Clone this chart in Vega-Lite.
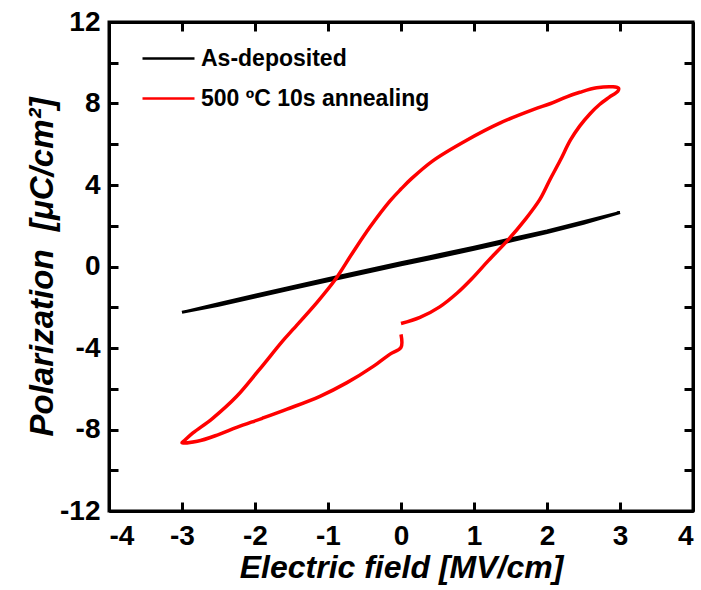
{
  "$schema": "https://vega.github.io/schema/vega-lite/v6.json",
  "autosize": {"type": "none"},
  "width": 584,
  "height": 489,
  "padding": {"left": 109, "top": 22, "right": 8, "bottom": 79},
  "background": "white",
  "config": {
    "view": {"stroke": "black", "strokeWidth": 3},
    "font": "Liberation Sans",
    "axis": {
      "grid": false,
      "domainColor": "black",
      "domainWidth": 3,
      "tickColor": "black",
      "tickWidth": 3,
      "tickSize": -9,
      "labelFont": "Liberation Sans",
      "labelFontWeight": "bold",
      "labelFontSize": 28,
      "labelColor": "black",
      "titleFont": "Liberation Sans",
      "titleFontWeight": "bold",
      "titleFontStyle": "italic",
      "titleFontSize": 32,
      "titleColor": "black"
    }
  },
  "datasets": {
    "pe": [
      {"series": "As-deposited", "i": 0, "E": 0, "P": 0.08},
      {"series": "As-deposited", "i": 1, "E": 0.5, "P": 0.45},
      {"series": "As-deposited", "i": 2, "E": 1, "P": 0.85},
      {"series": "As-deposited", "i": 3, "E": 1.5, "P": 1.25},
      {"series": "As-deposited", "i": 4, "E": 2, "P": 1.67},
      {"series": "As-deposited", "i": 5, "E": 2.5, "P": 2.12},
      {"series": "As-deposited", "i": 6, "E": 3, "P": 2.65},
      {"series": "As-deposited", "i": 7, "E": 2.5, "P": 2.2},
      {"series": "As-deposited", "i": 8, "E": 2, "P": 1.75},
      {"series": "As-deposited", "i": 9, "E": 1.5, "P": 1.35},
      {"series": "As-deposited", "i": 10, "E": 1, "P": 0.95},
      {"series": "As-deposited", "i": 11, "E": 0.5, "P": 0.56},
      {"series": "As-deposited", "i": 12, "E": 0, "P": 0.18},
      {"series": "As-deposited", "i": 13, "E": -0.5, "P": -0.21},
      {"series": "As-deposited", "i": 14, "E": -1, "P": -0.6},
      {"series": "As-deposited", "i": 15, "E": -1.5, "P": -1.0},
      {"series": "As-deposited", "i": 16, "E": -2, "P": -1.41},
      {"series": "As-deposited", "i": 17, "E": -2.5, "P": -1.83},
      {"series": "As-deposited", "i": 18, "E": -3, "P": -2.25},
      {"series": "As-deposited", "i": 19, "E": -2.5, "P": -1.9},
      {"series": "As-deposited", "i": 20, "E": -2, "P": -1.5},
      {"series": "As-deposited", "i": 21, "E": -1.5, "P": -1.09},
      {"series": "As-deposited", "i": 22, "E": -1, "P": -0.7},
      {"series": "As-deposited", "i": 23, "E": -0.5, "P": -0.31},
      {"series": "As-deposited", "i": 24, "E": 0, "P": 0.08},
      {"series": "500 ºC 10s annealing", "i": 0, "E": 0, "P": -2.8},
      {"series": "500 ºC 10s annealing", "i": 1, "E": 0.26, "P": -2.5},
      {"series": "500 ºC 10s annealing", "i": 2, "E": 0.53, "P": -1.98},
      {"series": "500 ºC 10s annealing", "i": 3, "E": 0.77, "P": -1.3},
      {"series": "500 ºC 10s annealing", "i": 4, "E": 0.97, "P": -0.6},
      {"series": "500 ºC 10s annealing", "i": 5, "E": 1.2, "P": 0.3},
      {"series": "500 ºC 10s annealing", "i": 6, "E": 1.47, "P": 1.32},
      {"series": "500 ºC 10s annealing", "i": 7, "E": 1.7, "P": 2.3},
      {"series": "500 ºC 10s annealing", "i": 8, "E": 1.9, "P": 3.28},
      {"series": "500 ºC 10s annealing", "i": 9, "E": 2.04, "P": 4.26},
      {"series": "500 ºC 10s annealing", "i": 10, "E": 2.18, "P": 5.2},
      {"series": "500 ºC 10s annealing", "i": 11, "E": 2.32, "P": 6.2},
      {"series": "500 ºC 10s annealing", "i": 12, "E": 2.45, "P": 6.9},
      {"series": "500 ºC 10s annealing", "i": 13, "E": 2.59, "P": 7.5},
      {"series": "500 ºC 10s annealing", "i": 14, "E": 2.72, "P": 7.95},
      {"series": "500 ºC 10s annealing", "i": 15, "E": 2.85, "P": 8.3},
      {"series": "500 ºC 10s annealing", "i": 16, "E": 2.97, "P": 8.6},
      {"series": "500 ºC 10s annealing", "i": 17, "E": 2.98, "P": 8.75},
      {"series": "500 ºC 10s annealing", "i": 18, "E": 2.9, "P": 8.82},
      {"series": "500 ºC 10s annealing", "i": 19, "E": 2.68, "P": 8.77},
      {"series": "500 ºC 10s annealing", "i": 20, "E": 2.45, "P": 8.55},
      {"series": "500 ºC 10s annealing", "i": 21, "E": 2.27, "P": 8.33},
      {"series": "500 ºC 10s annealing", "i": 22, "E": 2.05, "P": 8.0},
      {"series": "500 ºC 10s annealing", "i": 23, "E": 1.81, "P": 7.7},
      {"series": "500 ºC 10s annealing", "i": 24, "E": 1.36, "P": 7.05},
      {"series": "500 ºC 10s annealing", "i": 25, "E": 0.9, "P": 6.2},
      {"series": "500 ºC 10s annealing", "i": 26, "E": 0.44, "P": 5.2},
      {"series": "500 ºC 10s annealing", "i": 27, "E": 0.14, "P": 4.3},
      {"series": "500 ºC 10s annealing", "i": 28, "E": 0, "P": 3.8},
      {"series": "500 ºC 10s annealing", "i": 29, "E": -0.15, "P": 3.22},
      {"series": "500 ºC 10s annealing", "i": 30, "E": -0.42, "P": 1.96},
      {"series": "500 ºC 10s annealing", "i": 31, "E": -0.66, "P": 0.69},
      {"series": "500 ºC 10s annealing", "i": 32, "E": -0.9, "P": -0.64},
      {"series": "500 ºC 10s annealing", "i": 33, "E": -1.15, "P": -1.76},
      {"series": "500 ºC 10s annealing", "i": 34, "E": -1.48, "P": -3.09},
      {"series": "500 ºC 10s annealing", "i": 35, "E": -1.62, "P": -3.65},
      {"series": "500 ºC 10s annealing", "i": 36, "E": -1.95, "P": -5.1},
      {"series": "500 ºC 10s annealing", "i": 37, "E": -2.25, "P": -6.37},
      {"series": "500 ºC 10s annealing", "i": 38, "E": -2.58, "P": -7.45},
      {"series": "500 ºC 10s annealing", "i": 39, "E": -2.85, "P": -8.17},
      {"series": "500 ºC 10s annealing", "i": 40, "E": -2.97, "P": -8.55},
      {"series": "500 ºC 10s annealing", "i": 41, "E": -3.0, "P": -8.65},
      {"series": "500 ºC 10s annealing", "i": 42, "E": -2.79, "P": -8.58},
      {"series": "500 ºC 10s annealing", "i": 43, "E": -2.5, "P": -8.25},
      {"series": "500 ºC 10s annealing", "i": 44, "E": -2.25, "P": -7.9},
      {"series": "500 ºC 10s annealing", "i": 45, "E": -1.9, "P": -7.45},
      {"series": "500 ºC 10s annealing", "i": 46, "E": -1.56, "P": -7.0},
      {"series": "500 ºC 10s annealing", "i": 47, "E": -1.11, "P": -6.37},
      {"series": "500 ºC 10s annealing", "i": 48, "E": -0.74, "P": -5.7},
      {"series": "500 ºC 10s annealing", "i": 49, "E": -0.38, "P": -4.9},
      {"series": "500 ºC 10s annealing", "i": 50, "E": -0.15, "P": -4.3},
      {"series": "500 ºC 10s annealing", "i": 51, "E": 0, "P": -3.97},
      {"series": "500 ºC 10s annealing", "i": 52, "E": 0, "P": -3.33}
    ]
  },
  "data": {"name": "pe"},
  "layer": [
    {
      "transform": [{"filter": "datum.series === 'As-deposited'"}],
      "mark": {"type": "line", "strokeWidth": 3, "clip": true},
      "encoding": {
        "x": {"field": "E", "type": "quantitative", "scale": {"domain": [-4, 4], "nice": false, "zero": false},
          "axis": {"orient": "bottom", "title": "Electric field [MV/cm]", "values": [-4, -3, -2, -1, 0, 1, 2, 3, 4], "labelExpr": "datum.value + ''", "labelPadding": 20, "titlePadding": 2}},
        "y": {"field": "P", "type": "quantitative", "scale": {"domain": [-12, 12], "nice": false, "zero": false},
          "axis": {"orient": "left", "title": "Polarization\u00a0\u00a0[μC/cm²]", "titleFontSize": 33, "values": [-12, -10, -8, -6, -4, -2, 0, 2, 4, 6, 8, 10, 12], "labelExpr": "datum.value % 4 === 0 ? datum.value + '' : ''", "labelPadding": 18, "titlePadding": 0}},
        "color": {"field": "series", "type": "nominal",
          "scale": {"domain": ["As-deposited", "500 ºC 10s annealing"], "range": ["#000000", "#ff0000"]},
          "legend": {"orient": "none", "legendX": 32, "legendY": 9, "title": null, "symbolType": "stroke", "symbolSize": 2704, "symbolStrokeWidth": 2.5, "labelFont": "Liberation Sans", "labelFontWeight": "bold", "labelFontSize": 23, "labelColor": "black", "labelOffset": 5, "labelLimit": 0, "rowPadding": -21}},
        "order": {"field": "i", "type": "quantitative"}
      }
    },
    {
      "transform": [{"filter": "datum.series !== 'As-deposited'"}],
      "mark": {"type": "line", "strokeWidth": 3.5, "clip": true, "interpolate": "catmull-rom"},
      "encoding": {
        "x": {"field": "E", "type": "quantitative", "scale": {"domain": [-4, 4], "nice": false, "zero": false},
          "axis": {"orient": "top", "title": null, "labels": false, "values": [-4, -3, -2, -1, 0, 1, 2, 3, 4]}},
        "y": {"field": "P", "type": "quantitative", "scale": {"domain": [-12, 12], "nice": false, "zero": false},
          "axis": {"orient": "right", "title": null, "labels": false, "values": [-12, -10, -8, -6, -4, -2, 0, 2, 4, 6, 8, 10, 12]}},
        "color": {"field": "series", "type": "nominal"},
        "order": {"field": "i", "type": "quantitative"}
      }
    }
  ],
  "resolve": {"axis": {"x": "independent", "y": "independent"}}
}
